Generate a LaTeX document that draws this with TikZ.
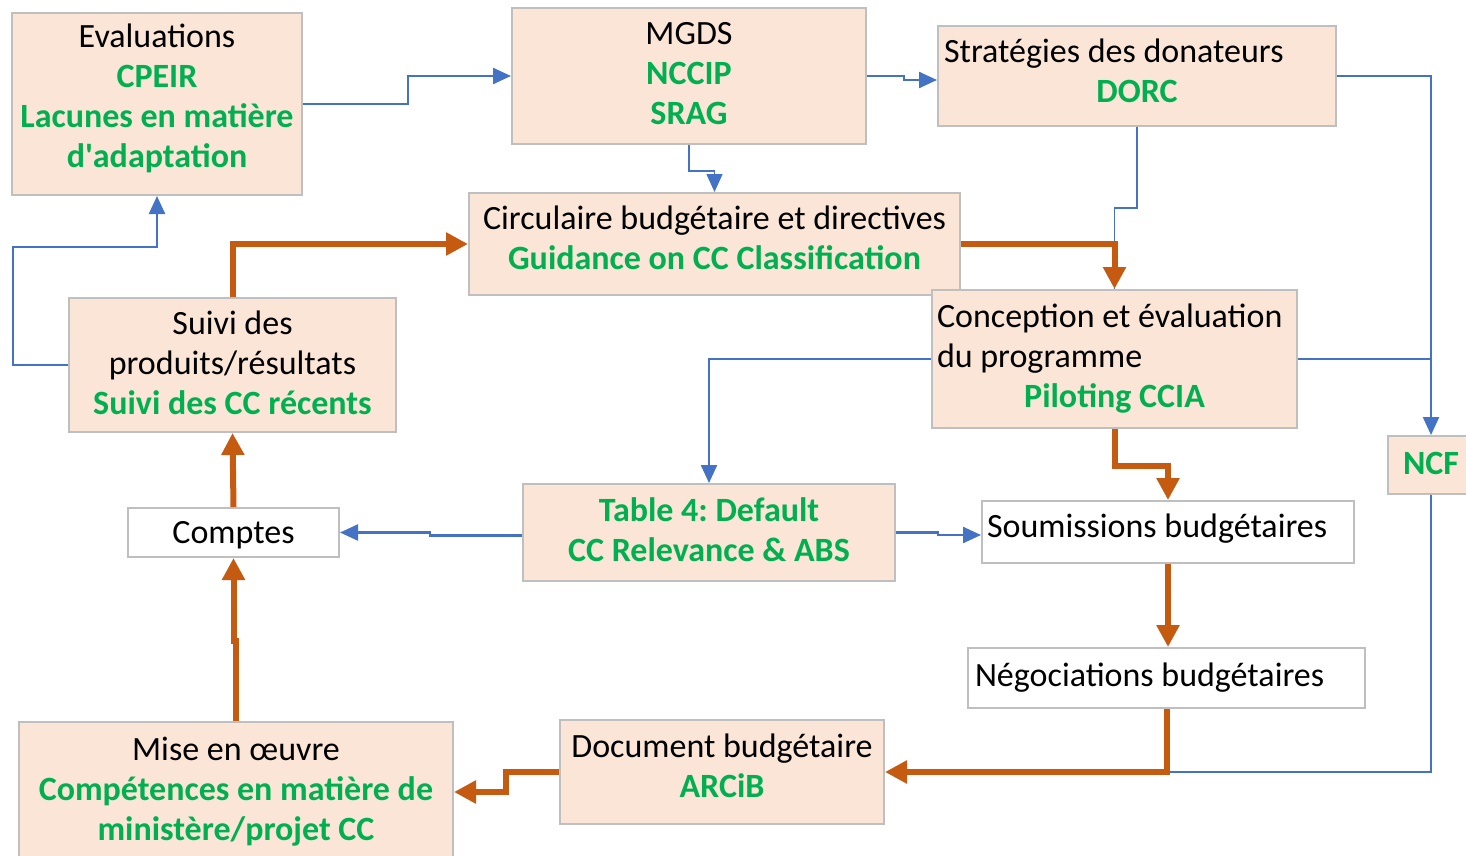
\documentclass[tikz,border=0pt]{standalone}
\usepackage{fontspec}
\setmainfont{Carlito}
\definecolor{boxfill}{RGB}{251, 229, 214}
\definecolor{boxline}{RGB}{191, 191, 191}
\definecolor{accent}{RGB}{0, 176, 80}
\definecolor{flowblue}{RGB}{68, 114, 196}
\definecolor{floworange}{RGB}{197, 90, 17}
\usetikzlibrary{arrows.meta, positioning}
\newcommand{\keyterm}[1]{\textcolor{accent}{\textbf{#1}}}
\newcommand{\midline}[1]{\hbox to \hsize{\hfil#1\hfil}}

\begin{document}
\begin{tikzpicture}[x=0.5pt, y=-0.5pt,
    infobox/.style={rectangle, draw=boxline, line width=1pt, fill=boxfill,
      inner sep=2pt, align=center, font=\fontsize{17}{20}\selectfont\frenchspacing},
    whitebox/.style={infobox, fill=white},
    blueflow/.style={draw=flowblue, line width=1.2pt},
    bluethin/.style={draw=flowblue, line width=0.7pt},
    bluearrow/.style={blueflow, -{Triangle[length=9pt, width=8pt]}},
    orangeflow/.style={draw=floworange, line width=3pt, -{Triangle[length=11pt, width=11pt]}}]
  \useasboundingbox (0,0) rectangle (1466,856);

  % boxes
  \node[infobox, text depth=8pt, minimum width=145pt, minimum height=91pt] (eval) at (157,104)
    {Evaluations\\ \keyterm{CPEIR}\\ \keyterm{Lacunes en matière}\\ \keyterm{d\textquotesingle adaptation}};
  \node[infobox, text depth=3pt, minimum width=177pt, minimum height=68pt] (mgds) at (689,76)
    {MGDS\\ \keyterm{NCCIP}\\ \keyterm{SRAG}};
  \node[infobox, text depth=25pt, inner sep=3pt, text width=193pt, align=flush left, minimum height=50pt] (donor) at (1137,76)
    {Stratégies des donateurs\\ \midline{\keyterm{DORC}}};
  \node[infobox, text depth=6pt, minimum width=245.5pt, minimum height=51pt] (circ) at (714.5,244)
    {Circulaire budgétaire et directives\\ \keyterm{Guidance on CC Classification}};
  \node[infobox, text depth=2pt, minimum width=163.5pt, minimum height=67pt] (suivi) at (232.5,365)
    {Suivi des\\ produits/résultats\\ \keyterm{Suivi des CC récents}};
  \node[infobox, inner sep=2.5pt, text width=177.5pt, align=flush left, minimum height=69pt] (concep) at (1114.5,359)
    {Conception et évaluation\\ du programme\\ \midline{\keyterm{Piloting CCIA}}};
  \node[infobox, text depth=2pt, minimum width=43pt, minimum height=29pt] (ncf) at (1431,465) {\keyterm{NCF}};
  \node[whitebox, text depth=0pt, minimum width=105.5pt, minimum height=24.5pt] (comptes) at (233.5,532.5) {Comptes};
  \node[infobox, text depth=3pt, minimum width=186pt, minimum height=48.5pt] (table4) at (709,532.5)
    {\keyterm{Table 4: Default}\\ \keyterm{CC Relevance \& ABS}};
  \node[whitebox, text depth=6pt, inner sep=2.5pt, text width=181pt, align=flush left, minimum height=31pt] (soum) at (1168,532)
    {Soumissions budgétaires};
  \node[whitebox, inner sep=3.5pt, text width=191.5pt, align=flush left, minimum height=30pt] (nego) at (1166.5,678)
    {Négociations budgétaires};
  \node[infobox, text depth=6pt, minimum width=162pt, minimum height=52pt] (doc) at (722,772)
    {Document budgétaire\\ \keyterm{ARCiB}};
  \node[infobox, minimum width=217pt, minimum height=70pt] (mise) at (236,792)
    {Mise en œuvre\\ \keyterm{Compétences en matière de}\\ \keyterm{ministère/projet CC}};
  \coordinate (join) at (nego.south |- doc.east);

  % blue links
  \draw[bluearrow] (eval.east) -- ++(105,0) |- (mgds.west);
  \draw[bluearrow] (mgds.east) -- ++(37,0) |- ([yshift=-2pt]donor.west);
  \draw[bluethin, -{Triangle[length=9pt, width=8pt]}] (mgds.south) -- ++(0,26) -| (circ.north);
  \draw[bluethin] (donor.south) -- ++(0,81) -| (concep.north);
  \draw[bluearrow] (donor.east) -| (ncf.north);
  \draw[blueflow] (concep.east) -- (ncf.north |- concep.east);
  \draw[bluearrow] (concep.west) -| (table4.north);
  \draw[bluearrow] ([yshift=-1.5pt]table4.west) -- ++(-92,0) |- (comptes.east);
  \draw[bluearrow] (table4.east) -- ++(42,0) |- ([yshift=-1.5pt]soum.west);
  \draw[blueflow] (ncf.south) |- (join);
  \draw[bluearrow] (suivi.west) -- ++(-55,0) -- ++(0,-118) -| (eval.south);

  % orange links
  \draw[orangeflow] (suivi.north) |- (circ.west);
  \draw[orangeflow] (circ.east) -| (concep.north);
  \draw[orangeflow] (concep.south) -- ++(0,37) -| (soum.north);
  \draw[orangeflow] (soum.south) -- (soum.south |- nego.north);
  \draw[orangeflow] (nego.south) |- (doc.east);
  \draw[orangeflow] (doc.west) -- ++(-53,0) |- (mise.east);
  \draw[orangeflow] (mise.north) -- ++(0,-80) -| (comptes.south);
  \draw[orangeflow] (comptes.north) -- (suivi.south);
\end{tikzpicture}
\end{document}
